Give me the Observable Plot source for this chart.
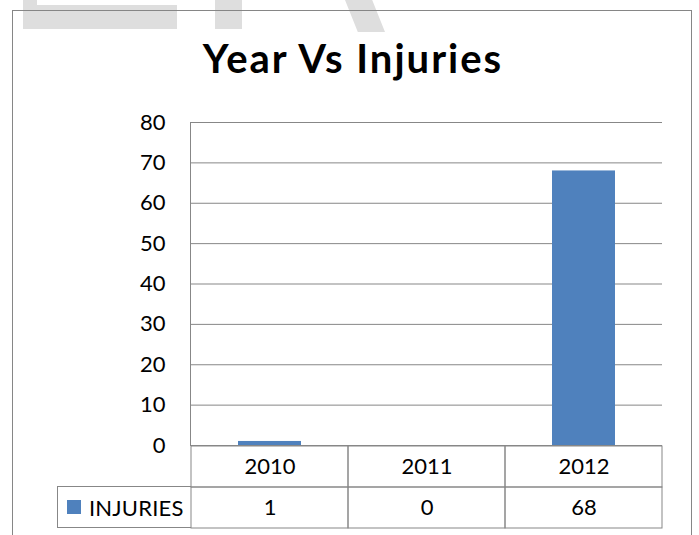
<!DOCTYPE html>
<html>
<head>
<meta charset="utf-8">
<script src="https://cdn.jsdelivr.net/npm/d3@7"></script>
<script src="https://cdn.jsdelivr.net/npm/@observablehq/plot@0.6"></script>
<style>
  html, body { margin: 0; padding: 0; background: #fff; }
  #wrap { position: relative; width: 699px; height: 535px; overflow: hidden; font-family: Lato, "Open Sans", sans-serif; }
  .wm { position: absolute; background: #dedede; }
  #border { position: absolute; left: 12px; top: 10px; width: 680px; height: 600px; border: 1px solid #868686; box-sizing: border-box; }
  #title { position: absolute; left: 13px; width: 680px; top: 34px; text-align: center; font-weight: bold; font-size: 40px; letter-spacing: 2px; color: #000; line-height: 1.2; white-space: nowrap; }
  .layer { position: absolute; left: 0; top: 0; }
  #legendCell { position: absolute; left: 57px; top: 486px; width: 134px; height: 42px; border: 1px solid #878787; border-right: none; box-sizing: border-box; display: flex; align-items: center; font-size: 22px; letter-spacing: 0.2px; color: #000; white-space: nowrap; }
  #legendCell .sw { width: 14px; height: 14px; margin-left: 9px; margin-right: 8px; flex: none; }
</style>
</head>
<body>
<div id="wrap">
  <div class="wm" style="left:23px;top:0;width:14px;height:29px"></div>
  <div class="wm" style="left:37px;top:5px;width:140px;height:24px"></div>
  <div class="wm" style="left:215px;top:0;width:27px;height:29px"></div>
  <div class="wm" style="left:345px;top:0;width:40px;height:32px;clip-path:polygon(0 0,68% 0,100% 100%,32% 100%);"></div>
  <div id="border"></div>
  <div id="title"></div>
  <div id="main" class="layer"></div>
  <div id="table" class="layer"></div>
  <div id="legendCell"><span class="sw"></span><span class="lbl"></span></div>
</div>
<script>
// ---- data ----
const titleText = "Year Vs Injuries";
const years = ["2010", "2011", "2012"];
const injuries = [1, 0, 68];
const seriesName = "INJURIES";
const yTicks = [0, 10, 20, 30, 40, 50, 60, 70, 80];
const barColor = "#4F81BD";
const lineColor = "#878787";

const data = years.map((y, i) => ({year: y, value: injuries[i]}));
const cells = [
  ...years.map(y => ({year: y, row: "year", text: y})),
  ...years.map((y, i) => ({year: y, row: "value", text: String(injuries[i])}))
];

document.getElementById("title").textContent = titleText;
document.querySelector("#legendCell .sw").style.background = barColor;
document.querySelector("#legendCell .lbl").textContent = seriesName;

const W = 699, H = 535;
const mL = 190, mR = 37;
const font = "Lato, 'Open Sans', sans-serif";

const main = Plot.plot({
  width: W, height: H,
  marginTop: 122, marginBottom: 90, marginLeft: mL, marginRight: mR,
  style: {background: "transparent", fontFamily: font, fontSize: "22px", color: "#000"},
  x: {domain: years, paddingInner: 0.6, paddingOuter: 0.3, axis: null},
  y: {domain: [0, 80], axis: null},
  marks: [
    Plot.gridY(yTicks, {stroke: lineColor, strokeOpacity: 1}),
    Plot.barY(data, {x: "year", y: "value", fill: barColor}),
    Plot.axisY(yTicks, {tickSize: 0, tickPadding: 25, fontSize: 22, fill: "#000", label: null}),
    Plot.frame({anchor: "left", stroke: lineColor, strokeOpacity: 1})
  ]
});
document.getElementById("main").appendChild(main);

const table = Plot.plot({
  width: W, height: H,
  marginTop: 445, marginBottom: 7, marginLeft: mL, marginRight: mR,
  style: {background: "transparent", fontFamily: font, fontSize: "22px", color: "#000"},
  x: {domain: years, padding: 0, axis: null},
  y: {domain: ["year", "value"], padding: 0, axis: null},
  marks: [
    Plot.cell(cells, {x: "year", y: "row", stroke: lineColor, fill: "none", inset: 0}),
    Plot.text(cells, {x: "year", y: "row", text: "text", fontSize: 22, fill: "#000"})
  ]
});
document.getElementById("table").appendChild(table);
</script>
</body>
</html>
